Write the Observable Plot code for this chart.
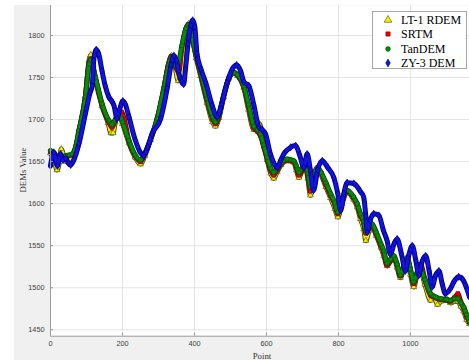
<!DOCTYPE html>
<html><head><meta charset="utf-8">
<script src="https://cdn.jsdelivr.net/npm/d3@7"></script>
<script src="https://cdn.jsdelivr.net/npm/@observablehq/plot@0.6"></script>
<style>
html,body{margin:0;padding:0;background:#fff;}
#wrap{position:relative;width:469px;height:360px;overflow:hidden;}
#bg{position:absolute;left:14px;top:5px;right:0;bottom:0;background:#f0f0f0;}
#chart{position:absolute;left:0;top:0;}
.axlabel{position:absolute;font-family:"Liberation Serif",serif;font-size:8.8px;color:#333;white-space:nowrap;line-height:1;}
#legend{position:absolute;left:372px;top:11px;width:95px;height:58px;background:#fff;border:1px solid #a6a6a6;box-sizing:border-box;}
#legend .row{position:absolute;left:0;height:14px;font-family:"Liberation Serif",serif;font-size:12px;line-height:14px;color:#000;white-space:nowrap;}
#legend svg{position:absolute;left:10px;top:2px;}
#legend span{position:absolute;left:28px;top:0;}
</style></head><body>
<div id="wrap"><div id="bg"></div><div id="chart"></div><div id="ylab" class="axlabel"></div><div id="xlab" class="axlabel"></div><div id="legend"></div></div>
<script>
// ---------- data ----------
const seriesNames = ["LT-1 RDEM", "SRTM", "TanDEM", "ZY-3 DEM"];
const seriesSymbols = ["triangle", "square", "circle", "diamond"];
const xTicks = [0, 200, 400, 600, 800, 1000];
const yTicks = [1450, 1500, 1550, 1600, 1650, 1700, 1750, 1800];
const xLabel = "Point";
const yLabel = "DEMs Value";

const ltX = [0,10,18,25,30,38,45,60,70,79,97,107,112,118,125,143,160,168,174,180,190,200,218,235,250,262,278,296,315,328,336,345,355,362,372,384,392,405,417,435,450,458,468,481,496,509,520,537,550,565,575,580,588,602,612,620,630,640,657,676,683,690,700,708,715,722,732,741,752,765,778,790,798,810,824,842,852,861,870,876,885,893,905,918,926,935,945,954,963,972,982,991,1000,1009,1018,1028,1040,1056,1065,1075,1085,1100,1111,1122,1132,1140,1148,1156,1164];
const ltY = [1660,1652,1640,1650,1665,1655,1650,1658,1666,1686,1728,1770,1777,1765,1748,1716,1696,1684,1684,1697,1706,1695,1672,1655,1647,1657,1676,1700,1737,1766,1776,1765,1746,1750,1800,1814,1800,1773,1752,1720,1697,1692,1702,1727,1749,1755,1752,1738,1712,1688,1690,1695,1684,1652,1636,1630,1638,1646,1651,1649,1640,1631,1640,1643,1630,1610,1630,1641,1634,1620,1607,1594,1584,1600,1614,1605,1596,1582,1570,1556,1568,1574,1562,1548,1538,1526,1532,1536,1524,1512,1524,1533,1516,1501,1514,1520,1504,1485,1490,1480,1484,1487,1482,1484,1484,1478,1472,1462,1457];

const srtmX = [0,10,23,42,60,70,79,97,107,112,118,125,143,162,171,180,197,205,218,235,250,262,278,296,315,328,336,343,356,365,376,384,392,405,417,435,450,458,468,481,496,509,520,537,550,565,575,583,592,602,612,620,630,640,657,676,683,690,700,708,715,722,732,741,752,765,778,790,798,810,824,842,852,861,870,876,885,893,905,918,926,935,945,954,963,972,982,991,1000,1009,1018,1028,1040,1056,1070,1085,1100,1111,1122,1132,1140,1148,1156,1164];
const srtmY = [1662,1659,1653,1656,1658,1667,1686,1727,1767,1772,1762,1749,1718,1697,1691,1699,1709,1700,1674,1657,1650,1659,1676,1700,1737,1766,1775,1768,1756,1786,1807,1813,1800,1775,1755,1723,1701,1695,1704,1728,1750,1756,1753,1739,1716,1690,1686,1681,1668,1653,1639,1634,1640,1647,1652,1650,1643,1634,1641,1644,1633,1615,1633,1642,1636,1623,1610,1599,1588,1603,1615,1607,1599,1586,1577,1565,1571,1575,1564,1550,1542,1527,1533,1537,1527,1514,1526,1535,1521,1505,1517,1528,1510,1491,1488,1486,1485,1484,1488,1493,1483,1476,1466,1459];

const tanX = [0,10,23,42,60,70,79,97,107,112,118,125,143,162,171,180,190,200,218,235,250,262,278,296,315,328,336,343,352,365,376,384,392,405,417,435,450,458,468,481,496,509,520,537,550,565,575,583,592,602,612,620,630,640,657,676,683,690,700,708,715,722,732,741,752,765,778,790,798,810,824,842,852,861,870,876,885,893,905,918,926,935,945,954,963,972,982,991,1000,1009,1018,1028,1040,1056,1070,1085,1100,1111,1122,1132,1140,1148,1156,1164];
const tanY = [1663,1660,1655,1657,1659,1668,1687,1727,1766,1771,1762,1750,1719,1699,1694,1700,1707,1697,1675,1658,1652,1660,1677,1701,1737,1765,1774,1768,1762,1788,1808,1813,1800,1776,1756,1725,1703,1697,1705,1729,1750,1756,1753,1740,1718,1692,1688,1683,1670,1655,1642,1637,1642,1648,1653,1651,1645,1637,1643,1645,1636,1620,1635,1643,1637,1625,1612,1601,1590,1605,1616,1608,1600,1588,1579,1567,1572,1576,1566,1552,1544,1529,1534,1538,1528,1515,1527,1536,1522,1507,1517,1522,1510,1493,1489,1487,1486,1485,1487,1487,1482,1477,1468,1460];

const zyX = [0,9,19,28,35,42,50,56,65,79,97,110,116,120,127,134,143,152,162,170,176,185,192,201,208,218,236,248,259,270,282,306,324,335,343,350,358,364,370,375,382,390,395,401,407,418,431,449,463,475,491,505,517,528,537,551,565,579,588,597,611,622,630,640,648,667,681,692,704,713,722,731,742,755,770,787,798,806,815,824,843,860,870,876,880,888,898,912,925,935,944,955,963,975,986,996,1005,1015,1023,1033,1042,1052,1060,1070,1079,1088,1097,1111,1122,1134,1145,1153,1164];
const zyY = [1645,1661,1645,1659,1652,1654,1648,1646,1652,1671,1707,1732,1740,1770,1783,1778,1758,1740,1727,1722,1717,1701,1712,1722,1718,1703,1675,1662,1657,1667,1683,1701,1737,1765,1776,1770,1752,1745,1742,1760,1790,1812,1818,1810,1778,1760,1744,1717,1703,1718,1744,1760,1765,1758,1745,1740,1717,1691,1688,1683,1659,1647,1643,1652,1659,1667,1669,1658,1643,1659,1640,1616,1640,1651,1643,1631,1612,1592,1612,1625,1624,1615,1608,1585,1566,1580,1588,1586,1568,1556,1540,1553,1558,1540,1520,1540,1550,1532,1515,1532,1538,1520,1501,1515,1520,1505,1493,1499,1508,1513,1510,1503,1489];

// ---------- styling ----------
const fills = ["#f2f200", "#ee0000", "#0b8a0b", "#1414dc"];
const edges = ["#4a4a10", "#7a0000", "#0a4a0a", "#000088"];
const xDomain = [0, 1164];
const yDomain = [1442.4, 1835.6];

const allX = [ltX, srtmX, tanX, zyX];
const allY = [ltY, srtmY, tanY, zyY];
const series = seriesNames.map((name, k) => allX[k].map((x, i) => ({name, x, y: allY[k][i]})));

const seriesMarks = series.flatMap((data, k) => [
  Plot.line(data, {x: "x", y: "y", stroke: edges[k], strokeWidth: 5, curve: "monotone-x"}),
  Plot.line(data, {x: "x", y: "y", stroke: fills[k], strokeWidth: 3.2, curve: "monotone-x"}),
  Plot.dot(data, {x: "x", y: "y", symbol: () => seriesSymbols[k], fill: fills[k], stroke: edges[k], strokeWidth: 0.6, r: 2.2})
]);

const chart = Plot.plot({
  width: 469, height: 360,
  marginLeft: 50, marginRight: 0, marginTop: 5, marginBottom: 24.3,
  style: {background: "transparent", fontFamily: "'Liberation Sans', Arial, sans-serif", fontSize: "7.3px"},
  x: {domain: xDomain},
  y: {domain: yDomain},
  symbol: {type: "identity"},
  marks: [
    Plot.frame({fill: "white", stroke: null}),
    Plot.gridX(xTicks, {stroke: "#e4e4e4", strokeOpacity: 1}),
    Plot.gridY(yTicks, {stroke: "#e4e4e4", strokeOpacity: 1}),
    ...seriesMarks,
    Plot.ruleX([xDomain[0]], {stroke: "#9a9a9a"}),
    Plot.ruleY([yDomain[0]], {stroke: "#9a9a9a"}),
    Plot.ruleX(xTicks, {x: d => d, y1: yDomain[0], y2: yDomain[0], insetTop: -3, stroke: "#9a9a9a"}),
    Plot.ruleY(yTicks, {y: d => d, x1: xDomain[0], x2: xDomain[0], insetRight: -3, stroke: "#9a9a9a"}),
    Plot.axisX(xTicks, {tickSize: 0, tickPadding: 5, color: "#404040", label: null, tickFormat: d => String(d)}),
    Plot.axisY(yTicks, {tickSize: 0, tickPadding: 6, color: "#404040", label: null, tickFormat: d => String(d)})
  ]
});
document.getElementById("chart").appendChild(chart);

// ---------- axis titles ----------
const ylab = document.getElementById("ylab");
ylab.textContent = yLabel;
ylab.style.left = "23px"; ylab.style.top = "170px";
ylab.style.transform = "translate(-50%,-50%) rotate(-90deg)";
const xlab = document.getElementById("xlab");
xlab.textContent = xLabel;
xlab.style.left = "262px"; xlab.style.top = "356px";
xlab.style.transform = "translate(-50%,-50%)";

// ---------- legend ----------
const legend = document.getElementById("legend");
seriesNames.forEach((name, k) => {
  const row = document.createElement("div");
  row.className = "row";
  row.style.top = (0.5 + k * 14.6) + "px";
  const sym = d3.symbol().type([d3.symbolTriangle, d3.symbolSquare, d3.symbolCircle, d3.symbolDiamond][k]).size(k === 0 ? 26 : 18)();
  row.innerHTML = `<svg width="10" height="10" viewBox="-5 -5 10 10"><path d="${sym}" fill="${fills[k]}" stroke="${edges[k]}" stroke-width="0.6"></path></svg><span>${name}</span>`;
  legend.appendChild(row);
});
</script>
</body></html>
